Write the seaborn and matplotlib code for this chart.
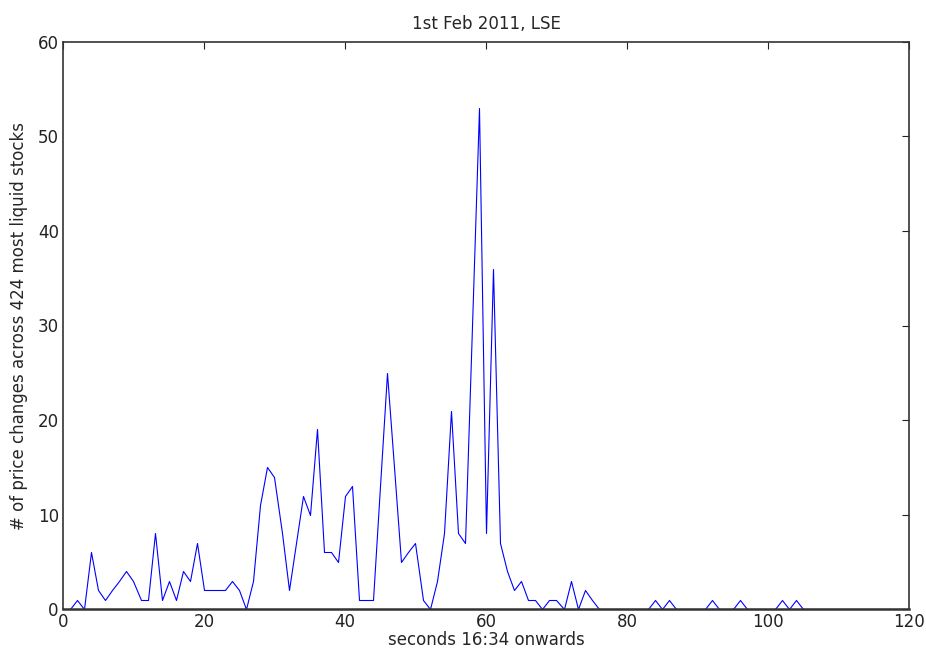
import numpy as np
import pandas as pd
import seaborn as sns
import matplotlib.pyplot as plt

# values (one point per second, starting at 1)
seconds = list(range(1, 121))
changes = [0, 1, 0, 6, 2, 1, 2, 3, 4, 3,
           1, 1, 8, 1, 3, 1, 4, 3, 7, 2,
           2, 2, 2, 3, 2, 0, 3, 11, 15, 14,
           8, 2, 7, 12, 10, 19, 6, 6, 5, 12,
           13, 1, 1, 1, 13, 25, 15, 5, 6, 7,
           1, 0, 3, 8, 21, 8, 7, 30, 53, 8,
           36, 7, 4, 2, 3, 1, 1, 0, 1, 1,
           0, 3, 0, 2, 1, 0, 0, 0, 0, 0,
           0, 0, 0, 1, 0, 1, 0, 0, 0, 0,
           0, 1, 0, 0, 0, 1, 0, 0, 0, 0,
           0, 1, 0, 1, 0, 0, 0, 0, 0, 0,
           0, 0, 0, 0, 0, 0, 0, 0, 0, 0]

df = pd.DataFrame({'t': seconds, 'n': changes})

sns.set_style('white')
plt.rcParams['font.family'] = ['DejaVu Sans']

fig = plt.figure(figsize=(9.26, 6.51), dpi=100)
ax = fig.add_axes([0.068, 0.0645, 0.9136, 0.871])

sns.lineplot(data=df, x='t', y='n', color='#0000ff', linewidth=0.8, ax=ax, zorder=1)
ax.lines[0].set_snap(True)

ax.set_xlim(0, 120)
ax.set_ylim(0, 60)
ax.set_xticks(range(0, 121, 20))
ax.set_yticks(range(0, 61, 10))
ax.tick_params(direction='in', length=5, width=0.8, colors='#222222',
               labelsize=12, top=True, right=True)
ax.tick_params(axis='x', pad=3)
ax.tick_params(axis='y', pad=3)
for s in ax.spines.values():
    s.set_color('#333333')
    s.set_linewidth(1.2)
    s.set_zorder(3)
# thicker bottom spine hides the flat zero segments, as in the original
ax.spines['bottom'].set_linewidth(1.8)

ax.set_xlabel('seconds 16:34 onwards', fontsize=12, labelpad=0)
ax.set_ylabel('# of price changes across 424 most liquid stocks', fontsize=12, labelpad=7)
ax.set_title('1st Feb 2011, LSE', fontsize=12, pad=9)

fig.savefig('out.png', dpi=100, facecolor='white')
